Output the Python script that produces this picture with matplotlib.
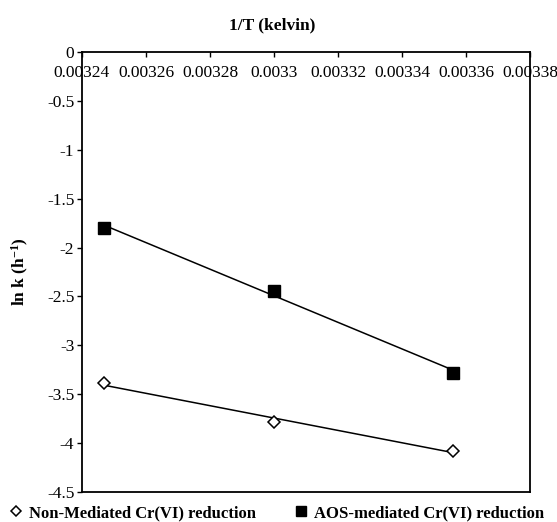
import numpy as np
import matplotlib
matplotlib.use("Agg")
import matplotlib.pyplot as plt
from matplotlib.lines import Line2D

# valores
inv_T = [0.003247, 0.003300, 0.003356]
non_mediated = [-3.39, -3.78, -4.08]
aos_mediated = [-1.80, -2.44, -3.28]
x_ticks = [0.00324, 0.00326, 0.00328, 0.0033, 0.00332, 0.00334, 0.00336, 0.00338]
x_tick_labels = ["0.00324", "0.00326", "0.00328", "0.0033", "0.00332", "0.00334", "0.00336", "0.00338"]
y_ticks = [0, -0.5, -1, -1.5, -2, -2.5, -3, -3.5, -4, -4.5]
y_tick_labels = ["0", "-0.5", "-1", "-1.5", "-2", "-2.5", "-3", "-3.5", "-4", "-4.5"]

plt.rcParams['font.family'] = ['Liberation Serif', 'DejaVu Serif']
plt.rcParams['mathtext.fontset'] = 'custom'
plt.rcParams['mathtext.rm'] = 'Liberation Serif'
plt.rcParams['mathtext.bf'] = 'Liberation Serif:bold'
plt.rcParams['mathtext.default'] = 'bf'

fig = plt.figure(figsize=(5.57, 5.22), dpi=100)
ax = fig.add_axes([82/557, 1 - 492/522, 448/557, 440/522])

# lineas de tendencia (ajuste lineal)
xs = np.array(inv_T)
for ys in (non_mediated, aos_mediated):
    m, b = np.polyfit(xs, ys, 1)
    ax.plot(xs, m * xs + b, color='black', lw=1.1, zorder=2)

ax.plot(inv_T, non_mediated, linestyle='none', marker='D', markersize=6.5,
        markerfacecolor='white', markeredgecolor='black', markeredgewidth=1.1, zorder=3)
ax.plot(inv_T, aos_mediated, linestyle='none', marker='s', markersize=8,
        markerfacecolor='black', markeredgecolor='black', zorder=3)

ax.set_xlim(0.00324, 0.00338)
ax.set_ylim(-4.5, 0)
ax.set_xticks(x_ticks)
ax.set_xticklabels(x_tick_labels)
ax.set_yticks(y_ticks)
ax.set_yticklabels(y_tick_labels)

ax.tick_params(axis='x', top=True, bottom=False, labeltop=True, labelbottom=False,
               direction='in', length=3.5, width=1, pad=-21, labelsize=12.5)
ax.tick_params(axis='y', direction='out', length=3.5, width=1, pad=2, labelsize=12.5)
for s in ax.spines.values():
    s.set_linewidth(1.3)

fig.text(0.488, 1 - 25/522, "1/T (kelvin)", ha='center', va='center',
         fontsize=12.5, fontweight='bold')
fig.text(20/557, 1 - 272/522, r"ln k (h$^{-1}$)", rotation=90, ha='center', va='center',
         fontsize=12.5, fontweight='bold')

handles = [
    Line2D([], [], linestyle='none', marker='D', markersize=5.5, markerfacecolor='white',
           markeredgecolor='black', markeredgewidth=1.1),
    Line2D([], [], linestyle='none', marker='s', markersize=6.5, markerfacecolor='black',
           markeredgecolor='black'),
]
fig.legend(handles, ["Non-Mediated Cr(VI) reduction", "AOS-mediated Cr(VI) reduction"],
           loc='center', bbox_to_anchor=(0.497, 1 - 513/522), ncol=2, frameon=False,
           prop={'weight': 'bold', 'size': 12}, handlelength=0.8, handletextpad=0.4,
           columnspacing=2.3, borderaxespad=0, borderpad=0)

fig.savefig("out.png", dpi=100)
